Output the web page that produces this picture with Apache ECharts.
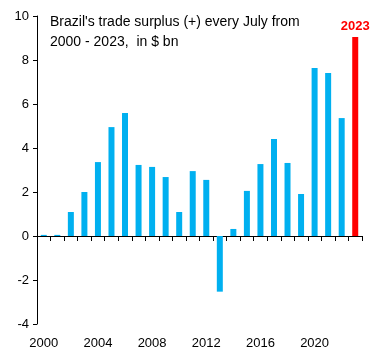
<!DOCTYPE html>
<html><head><meta charset="utf-8">
<script src="https://cdn.jsdelivr.net/npm/echarts@6/dist/echarts.min.js"></script>
<style>html,body{margin:0;padding:0;background:#fff}#c{width:384px;height:360px}</style>
</head><body><div id="c"></div>
<script>
const years = ['2000','2001','2002','2003','2004','2005','2006','2007','2008','2009','2010','2011','2012','2013','2014','2015','2016','2017','2018','2019','2020','2021','2022','2023'];
const surplus = [0.05,0.05,1.09,2.0,3.36,4.95,5.59,3.23,3.14,2.68,1.09,2.95,2.55,-2.53,0.32,2.05,3.27,4.41,3.32,1.91,7.64,7.41,5.36,9.05];
const titleLines = ["Brazil's trade surplus (+) every July from", "2000 - 2023,  in $ bn"];
const highlightYear = '2023';
const yMin = -4, yMax = 10, yStep = 2;

const FONT = 'Liberation Sans';
const chart = echarts.init(document.getElementById('c'), null, {renderer:'canvas'});
const data = surplus.map((v,i)=>({value:v, itemStyle:{color: years[i]===highlightYear ? '#ff0000' : '#00b0f0'},
  label: years[i]===highlightYear ? {show:true, position:'top', distance:4, formatter: highlightYear, color:'#ff0000', fontWeight:'bold', fontSize:13, fontFamily:FONT} : {show:false}}));
chart.setOption({
  animation:false,
  textStyle:{fontFamily:FONT},
  title:{text: titleLines.join('\n'), left:45, top:7, textStyle:{fontSize:14, fontWeight:'normal', color:'#000', lineHeight:20, fontFamily:FONT}},
  grid:{left:37, right:22, top:16, bottom:36, containLabel:false},
  xAxis:[{type:'category', data:years, position:'bottom', axisLine:{onZero:true, lineStyle:{color:'#000', width:1}},
     axisTick:{show:true, interval:0, length:5, inside:false, lineStyle:{color:'#000'}}, axisLabel:{show:false}},
    {type:'category', data:years, position:'bottom', axisLine:{show:false, onZero:false}, axisTick:{show:false},
     axisLabel:{show:true, interval:3, color:'#000', fontSize:13, margin:13, fontFamily:FONT}}],
  yAxis:{type:'value', min:yMin, max:yMax, interval:yStep, splitLine:{show:false},
    axisLine:{show:true, lineStyle:{color:'#000'}}, axisTick:{show:true, length:4, lineStyle:{color:'#000'}},
    axisLabel:{color:'#000', fontSize:13, margin:8, fontFamily:FONT}},
  series:[{type:'bar', data:data, barWidth:6, xAxisIndex:0}]
});
</script></body></html>
